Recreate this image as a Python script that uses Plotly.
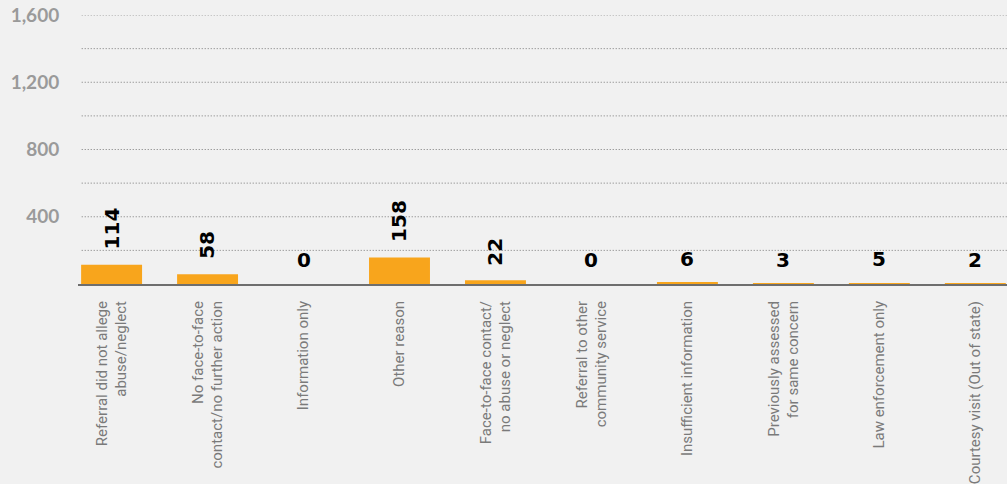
import plotly.graph_objects as go

categories = [
    "Referral did not allege<br>abuse/neglect",
    "No face-to-face<br>contact/no further action",
    "Information only",
    "Other reason",
    "Face-to-face contact/<br>no abuse or neglect",
    "Referral to other<br>community service",
    "Insufficient information",
    "Previously assessed<br>for same concern",
    "Law enforcement only",
    "Courtesy visit (Out of state)",
]
values = [114, 58, 0, 158, 22, 0, 6, 3, 5, 2]
y_tickvals = [400, 800, 1200, 1600]
y_ticktext = ["400", "800", "1,200", "1,600"]

BAR = "#F8A51C"
BG = "#F1F1F1"

fig = go.Figure()
fig.add_trace(go.Bar(
    x=list(range(len(categories))),
    y=values,
    marker=dict(color=BAR, line=dict(width=0)),
    width=0.635,
    hoverinfo="skip",
))

for i, v in enumerate(values):
    s = str(v)
    rotated = len(s) > 1
    fig.add_annotation(
        x=i, y=v, text=s, showarrow=False,
        textangle=-90 if rotated else 0,
        xanchor="center", yanchor="bottom",
        yshift=13 if rotated else 10,
        font=dict(family="DejaVu Sans", size=20, color="#000000", weight="bold"),
    )

fig.update_layout(
    width=1007, height=484,
    paper_bgcolor=BG, plot_bgcolor=BG,
    margin=dict(l=78, r=0, t=15, b=200, autoexpand=False),
    showlegend=False,
    bargap=0.365,
    xaxis=dict(
        range=[-0.35, 9.33],
        tickmode="array",
        tickvals=list(range(len(categories))),
        ticktext=categories,
        tickangle=-90,
        tickfont=dict(family="Roboto", size=15, color="#7A7A7A"),
        ticks="outside", ticklen=9, tickcolor="rgba(0,0,0,0)",
        showline=True, linecolor="#6E6E6E", linewidth=2,
        showgrid=False, zeroline=False, automargin=False,
    ),
    yaxis=dict(
        range=[0, 1600],
        tickmode="array",
        tickvals=y_tickvals,
        ticktext=y_ticktext,
        tickfont=dict(family="Lato", size=19, color="#9A9A9A", weight="bold"),
        ticks="outside", ticklen=14, tickcolor="rgba(0,0,0,0)",
        showgrid=False, zeroline=False, showline=False, automargin=False,
    ),
)

# dotted gridlines every 200
for g in range(200, 1601, 200):
    fig.add_shape(type="line", xref="paper", yref="y",
                  x0=0.004, x1=1, y0=g, y1=g,
                  line=dict(color="#7A7A7A", width=1, dash="1px,2px"), layer="below")

fig.write_html("out.html", config={"displayModeBar": False})

with open("out.html", "r", encoding="utf-8") as f:
    html = f.read()
html = html.replace("<head>", "<head><style>html,body{margin:0;padding:0;overflow:hidden;}</style>", 1)
with open("out.html", "w", encoding="utf-8") as f:
    f.write(html)
